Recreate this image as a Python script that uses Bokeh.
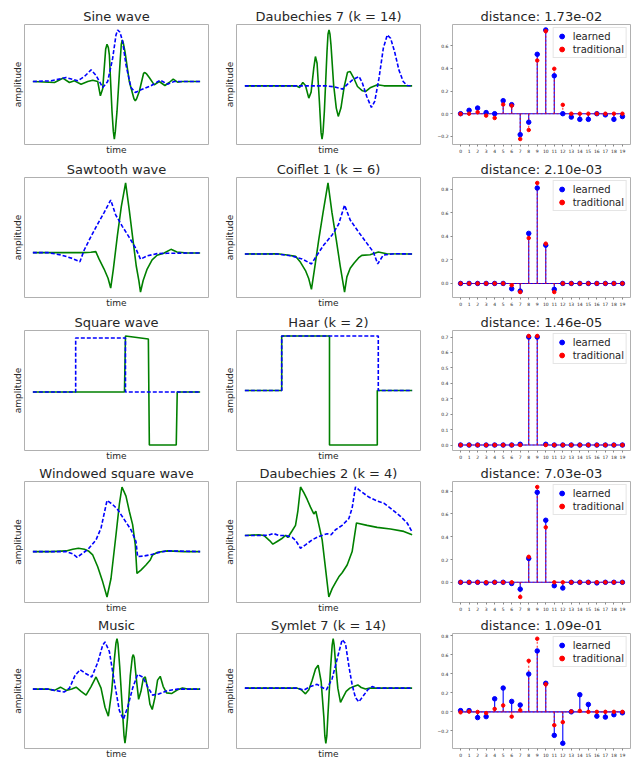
import math
from bokeh.plotting import figure
from bokeh.layouts import column, row
from bokeh.models import Range1d, FixedTicker, Legend, LegendItem
from bokeh.embed import file_html
from bokeh.resources import INLINE

# ---------------- data: column 1 (signals) ----------------
sine_t_g = [0, 65, 90, 110, 125, 145, 165, 180, 195, 203, 210, 219, 223, 227, 230, 238, 242, 245, 248, 253, 263, 266, 269, 272, 277, 290, 304, 308, 312, 320, 333, 337, 341, 350, 365, 380, 397, 410, 422, 435, 450, 503]
sine_a_g = [0, -0.03, 0.10, -0.03, 0.02, -0.08, 0, 0.04, 0, -0.43, -0.22, 0.98, 1.12, 1.02, 0.80, -0.90, -1.50, -1.73, -1.50, -0.90, 0.70, 1.12, 1.25, 1.15, 0.90, 0, -0.52, -0.58, -0.52, -0.30, 0.25, 0.27, 0.24, 0.12, -0.10, 0, -0.12, -0.03, 0.07, -0.02, 0, 0]
sine_t_b = [0, 55, 100, 135, 155, 175, 190, 210, 225, 240, 250, 255, 262, 270, 280, 295, 308, 325, 355, 383, 405, 425, 503]
sine_a_b = [0, 0.02, 0.12, 0.02, 0.15, 0.35, 0.18, -0.18, 0, 0.70, 1.40, 1.55, 1.48, 1.20, 0.50, -0.18, -0.33, -0.25, -0.13, 0.04, -0.08, 0, 0]

saw_t_g = [0, 153, 175, 190, 200, 215, 227, 235, 243, 255, 267, 280, 291, 302, 312, 320, 325, 333, 345, 360, 375, 395, 417, 435, 465, 505]
saw_a_g = [0, 0, 0.01, 0.03, -0.20, -0.50, -0.78, -1.08, -0.50, 0.50, 1.40, 2.12, 1.30, 0.40, -0.40, -0.85, -1.20, -0.85, -0.50, -0.22, -0.08, -0.02, 0.10, 0.02, -0.01, -0.01]
saw_t_b = [0, 45, 85, 120, 142, 155, 175, 195, 215, 235, 250, 270, 290, 310, 325, 345, 375, 405, 505]
saw_a_b = [0, 0, -0.07, -0.18, -0.28, 0.08, 0.48, 0.86, 1.22, 1.60, 1.15, 0.80, 0.48, 0.14, -0.20, -0.10, -0.03, -0.02, -0.01]

sq_t_g = [0, 276, 279, 348, 351, 432, 435, 504]
sq_a_g = [0, 0, 1.65, 1.56, -1.56, -1.56, 0, 0]
sq_t_b = [0, 129, 129, 279, 279, 504]
sq_a_b = [0, 0, 1.59, 1.59, 0, 0]

wsq_t_g = [0, 55, 100, 120, 137, 155, 167, 180, 195, 210, 223, 235, 250, 260, 268, 280, 290, 300, 308, 313, 325, 340, 353, 360, 375, 405, 455, 503]
wsq_a_g = [0, 0, 0.02, 0.07, 0.10, 0.07, 0.02, -0.10, -0.45, -0.90, -1.35, -0.80, 0.50, 1.40, 1.92, 1.65, 1.20, 0.80, 0.20, -0.65, -0.55, -0.40, -0.25, -0.10, -0.02, 0.02, 0, 0]
wsq_t_b = [0, 100, 120, 133, 150, 167, 190, 205, 223, 240, 255, 275, 295, 310, 315, 335, 360, 385, 405, 503]
wsq_a_b = [0, 0, -0.07, -0.17, -0.05, 0.08, 0.35, 0.70, 1.52, 1.40, 1.25, 0.95, 0.65, 0.30, -0.15, -0.13, -0.08, -0.01, 0.02, 0]

mus_t_g = [0, 45, 65, 83, 100, 117, 130, 145, 160, 175, 190, 205, 217, 227, 237, 245, 250, 253, 256, 261, 270, 274, 277, 280, 285, 293, 299, 302, 305, 310, 318, 325, 332, 338, 345, 352, 359, 367, 375, 383, 392, 402, 417, 435, 450, 465, 503]
mus_a_g = [0, 0, -0.04, 0.06, -0.04, 0, 0.06, -0.07, -0.19, 0.08, 0.38, 0.03, -0.57, -0.85, -0.07, 0.93, 1.45, 1.58, 1.42, 0.73, -0.77, -1.45, -1.70, -1.45, -0.87, 0.43, 1.00, 1.08, 0.98, 0.43, -0.32, -0.07, 0.33, 0.38, 0.03, -0.47, -0.64, -0.27, 0.28, 0.40, 0.08, -0.12, -0.14, -0.02, 0.03, 0, 0]
mus_t_b = [0, 45, 70, 95, 110, 127, 142, 160, 177, 195, 210, 217, 230, 245, 260, 272, 285, 300, 315, 330, 345, 360, 380, 405, 435, 503]
mus_a_b = [0, 0, -0.05, -0.09, 0.03, 0.43, 0.61, 0.48, 0.38, 0.83, 1.38, 1.48, 1.18, 0.23, -0.67, -0.95, -0.57, 0.03, 0.46, 0.38, 0.08, -0.19, -0.15, -0.05, 0, 0]

# ---------------- data: column 2 (wavelets) ----------------
db7_t_g = [0, 155, 165, 175, 183, 193, 200, 208, 213, 218, 225, 230, 233, 236, 240, 248, 251, 254, 257, 260, 268, 276, 282, 290, 300, 310, 318, 328, 340, 355, 365, 380, 400, 420, 505]
db7_a_g = [0, 0, -0.05, 0.10, 0.01, -0.37, -0.19, 0.53, 0.88, 0.68, -0.47, -1.40, -1.60, -1.40, -0.77, 1.03, 1.55, 1.68, 1.55, 1.23, 0.03, -0.67, -0.92, -0.67, -0.02, 0.41, 0.43, 0.25, -0.02, -0.15, -0.17, -0.05, 0.03, 0, 0]
db7_t_b = [0, 245, 270, 295, 310, 325, 345, 355, 368, 382, 392, 405, 418, 430, 440, 452, 465, 478, 490, 505]
db7_a_b = [0, 0, -0.03, -0.10, 0.05, 0.18, 0.28, 0.08, -0.32, -0.65, -0.47, 0.23, 1.13, 1.53, 1.43, 1.03, 0.48, 0.13, 0.01, 0]

coif_t_g = [0, 98, 128, 153, 168, 183, 193, 201, 210, 223, 236, 251, 263, 276, 288, 301, 308, 318, 330, 343, 353, 378, 403, 428, 505]
coif_a_g = [0, 0.01, -0.03, -0.07, -0.25, -0.50, -0.75, -1.07, -0.47, 0.43, 1.25, 2.15, 1.25, 0.43, -0.37, -1.15, -0.69, -0.43, -0.27, -0.12, -0.04, -0.02, 0.06, 0.01, 0]
coif_t_b = [0, 98, 138, 173, 201, 218, 238, 263, 283, 301, 318, 343, 368, 388, 401, 418, 453, 505]
coif_a_b = [0, 0, -0.05, -0.15, -0.30, -0.03, 0.27, 0.57, 0.90, 1.48, 1.03, 0.67, 0.33, 0.06, -0.30, -0.03, 0.01, 0]

haar_t_g = [0, 111, 111, 255, 255, 399, 399, 504]
haar_a_g = [0, 0, 1.65, 1.65, -1.65, -1.65, 0, 0]
haar_t_b = [0, 111, 111, 402, 402, 504]
haar_a_b = [0, 0, 1.65, 1.65, 0, 0]

db2_t_g = [0, 42, 57, 75, 84, 97, 110, 122, 129, 142, 152, 159, 167, 177, 187, 197, 207, 213, 222, 232, 242, 252, 262, 272, 282, 292, 307, 322, 335, 367, 397, 437, 477, 502]
db2_a_g = [0, 0.02, 0, -0.16, -0.26, -0.18, -0.10, 0, -0.06, 0.14, 0.30, 0.72, 1.44, 1.27, 1.07, 0.84, 0.64, 0.72, 0.32, -0.13, -0.98, -1.83, -1.58, -1.40, -1.23, -1.11, -0.88, -0.48, 0.37, 0.30, 0.24, 0.19, 0.12, 0.02]
db2_t_b = [0, 47, 72, 85, 102, 122, 142, 152, 167, 182, 202, 222, 247, 259, 272, 292, 312, 322, 332, 347, 372, 397, 417, 442, 467, 487, 502]
db2_a_b = [0, 0, 0.01, 0.06, 0, 0, -0.06, -0.14, -0.38, -0.28, -0.13, -0.03, 0.05, 0.02, 0.17, 0.30, 0.50, 0.82, 1.44, 1.32, 1.14, 1.02, 0.96, 0.77, 0.57, 0.37, 0.10]

sym_t_g = [0, 157, 169, 182, 192, 202, 212, 220, 229, 237, 240, 243, 246, 249, 257, 262, 265, 268, 272, 279, 287, 295, 304, 315, 327, 339, 349, 362, 375, 502]
sym_a_g = [0, 0, -0.05, -0.18, -0.05, 0.25, 0.60, 0.72, 0.20, -0.90, -1.50, -1.73, -1.50, -0.90, 0.60, 1.35, 1.55, 1.35, 0.80, 0, -0.45, -0.28, -0.10, 0, 0.05, 0.10, 0.02, -0.03, 0, 0]
sym_t_b = [0, 157, 177, 197, 217, 232, 245, 262, 279, 292, 302, 312, 322, 332, 342, 355, 369, 382, 395, 502]
sym_a_b = [0, 0, -0.06, 0.05, 0.12, 0.02, -0.05, 0.30, 1.00, 1.52, 1.40, 0.70, 0.10, -0.30, -0.43, -0.25, -0.05, 0.05, 0, 0]

# ---------------- data: column 3 (filter coefficients) ----------------
index = list(range(20))
learned_1 = [0.0, 0.03, 0.05, 0.01, 0.0, 0.115, 0.08, -0.185, -0.075, 0.525, 0.74, 0.335, 0.0, -0.03, -0.05, -0.05, 0.0, -0.01, -0.05, -0.025]
trad_1 = [-0.002, 0.0, 0.013, -0.017, -0.038, 0.081, 0.071, -0.224, -0.144, 0.470, 0.729, 0.397, 0.078, 0, 0, 0, 0, 0, 0, 0]
learned_2 = [0, 0, 0, 0, 0, 0, -0.045, -0.065, 0.425, 0.81, 0.325, -0.05, 0, 0, 0, 0, 0, 0, 0, 0]
trad_2 = [0, 0, 0, 0, 0, 0, -0.016, -0.073, 0.385, 0.853, 0.338, -0.073, 0, 0, 0, 0, 0, 0, 0, 0]
learned_3 = [0, 0, 0, 0, 0, 0, 0, 0.005, 0.700, 0.700, 0.005, 0, 0, 0, 0, 0, 0, 0, 0, 0]
trad_3 = [0, 0, 0, 0, 0, 0, 0, 0, 0.707, 0.707, 0, 0, 0, 0, 0, 0, 0, 0, 0, 0]
learned_4 = [0, 0, 0, -0.005, 0, 0, -0.01, -0.06, 0.21, 0.79, 0.545, -0.03, -0.05, 0, 0, 0, -0.005, 0, 0, 0]
trad_4 = [0, 0, 0, 0, 0, 0, 0, -0.129, 0.224, 0.837, 0.483, 0, 0, 0, 0, 0, 0, 0, 0, 0]
learned_5 = [0.013, 0.013, -0.06, -0.05, 0.137, 0.25, 0.11, 0.072, 0.397, 0.64, 0.30, -0.247, -0.33, 0.0, 0.18, 0.078, -0.045, -0.055, -0.03, -0.01]
trad_5 = [-0.005, 0.003, -0.001, -0.013, 0.031, 0.068, -0.050, 0.017, 0.536, 0.768, 0.289, -0.140, -0.108, 0.004, 0.010, 0, 0, 0, 0, 0]

signal_titles = ["Sine wave", "Sawtooth wave", "Square wave", "Windowed square wave", "Music"]
wavelet_titles = ["Daubechies 7 (k = 14)", "Coiflet 1 (k = 6)", "Haar (k = 2)", "Daubechies 2 (k = 4)", "Symlet 7 (k = 14)"]
distance_titles = ["distance: 1.73e-02", "distance: 2.10e-03", "distance: 1.46e-05", "distance: 7.03e-03", "distance: 1.09e-01"]
yticks = [[-0.2, 0.0, 0.2, 0.4, 0.6],
          [0.0, 0.2, 0.4, 0.6, 0.8],
          [0.0, 0.1, 0.2, 0.3, 0.4, 0.5, 0.6, 0.7],
          [0.0, 0.2, 0.4, 0.6, 0.8],
          [-0.2, 0.0, 0.2, 0.4, 0.6, 0.8]]

signals = [(sine_t_g, sine_a_g, sine_t_b, sine_a_b),
           (saw_t_g, saw_a_g, saw_t_b, saw_a_b),
           (sq_t_g, sq_a_g, sq_t_b, sq_a_b),
           (wsq_t_g, wsq_a_g, wsq_t_b, wsq_a_b),
           (mus_t_g, mus_a_g, mus_t_b, mus_a_b)]
wavelets = [(db7_t_g, db7_a_g, db7_t_b, db7_a_b),
            (coif_t_g, coif_a_g, coif_t_b, coif_a_b),
            (haar_t_g, haar_a_g, haar_t_b, haar_a_b),
            (db2_t_g, db2_a_g, db2_t_b, db2_a_b),
            (sym_t_g, sym_a_g, sym_t_b, sym_a_b)]
coeffs = [(learned_1, trad_1), (learned_2, trad_2), (learned_3, trad_3), (learned_4, trad_4), (learned_5, trad_5)]

# ---------------- style / layout ----------------
FONT = "DejaVu Sans"
TXT = "#262626"
FRAME = "#b0b0b0"
GREEN = "#008000"
BLUE = "#0000ff"
RED = "#ff0000"

ROW_H = [157, 153, 153, 152, 146]
TOP = [24, 20, 20, 17, 18]
BOT = [13, 12, 12, 12, 10]
COL_W = 211
LEFT = [24, 25, 30]
RIGHT = [3, 2, 3]
NAN = float("nan")


def padded(vals, frac=0.05):
    lo, hi = min(vals), max(vals)
    d = (hi - lo) * frac
    return Range1d(lo - d, hi + d)


def base(r, c, title):
    p = figure(width=COL_W, height=ROW_H[r], output_backend="svg", toolbar_location=None,
               min_border_left=LEFT[c], min_border_right=RIGHT[c],
               min_border_top=TOP[r], min_border_bottom=BOT[r], title=title)
    p.title.align = "center"
    p.title.text_font = FONT
    p.title.text_font_size = "13px"
    p.title.text_font_style = "normal"
    p.title.text_color = TXT
    p.title.standoff = 1
    p.outline_line_color = FRAME
    p.outline_line_width = 1
    p.grid.visible = False
    p.background_fill_color = "white"
    p.border_fill_color = "white"
    for ax in p.axis:
        ax.axis_line_color = None
        ax.minor_tick_line_color = None
        ax.axis_label_text_font = FONT
        ax.axis_label_text_font_style = "normal"
        ax.axis_label_text_color = TXT
        ax.axis_label_text_font_size = "9px"
    return p


def wave_panel(r, c, title, tg, ag, tb, ab):
    p = base(r, c, title)
    p.x_range = padded(tg + tb)
    p.y_range = padded(ag + ab)
    p.line(tg, ag, line_color=GREEN, line_width=1.6)
    p.line(tb, ab, line_color=BLUE, line_width=1.6, line_dash="4 2")
    for ax in p.axis:
        ax.ticker = FixedTicker(ticks=[])
        ax.major_tick_line_color = None
        ax.major_tick_out = 0
        ax.major_tick_in = 0
        ax.axis_label_standoff = 2
    p.xaxis.axis_label = "time"
    p.xaxis.axis_label_standoff = 0
    p.yaxis.axis_label = "amplitude"
    return p


def fmt(v):
    s = "%.1f" % v
    return s.replace("-", "\u2212")


def stem_panel(r, title, learned, trad, ticks):
    p = base(r, 2, title)
    p.x_range = Range1d(index[0] - 0.05 * (index[-1] - index[0]), index[-1] + 0.05 * (index[-1] - index[0]))
    p.y_range = padded(learned + trad)
    zeros = [0] * len(index)
    p.segment(index, zeros, index, learned, line_color=BLUE, line_width=1.1)
    p.line([index[0], index[-1]], [0, 0], line_color=BLUE, line_width=1.1)
    p.segment(index, zeros, index, trad, line_color=RED, line_width=1.1, line_dash="2 2", line_alpha=0.8)
    p.line([index[0], index[-1]], [0, 0], line_color=RED, line_width=1.1, line_dash="2 2", line_alpha=0.6)
    p.scatter(index, learned, size=4.5, color=BLUE)
    p.scatter(index, trad, size=3.5, color=RED)

    # legend-only glyphs (a single NaN point, so nothing is drawn in the plot area)
    lb1 = p.scatter([NAN], [NAN], marker="dash", angle=math.pi / 2, size=9, line_color=BLUE, line_width=1.3)
    lb2 = p.scatter([NAN], [NAN], marker="circle", size=4.5, color=BLUE)
    lr1 = p.scatter([NAN], [NAN], marker="dash", angle=math.pi / 2, size=9, line_color=RED, line_width=1.3, line_dash="2 1")
    lr2 = p.scatter([NAN], [NAN], marker="circle", size=3.5, color=RED)
    leg = Legend(items=[LegendItem(label="learned", renderers=[lb1, lb2]),
                        LegendItem(label="traditional", renderers=[lr1, lr2])],
                 location="top_right", label_text_font=FONT, label_text_font_size="10px",
                 label_text_color=TXT, glyph_width=12, glyph_height=12, label_height=12,
                 spacing=1, padding=2, margin=3, label_standoff=5,
                 border_line_color="#cccccc", background_fill_alpha=0.85)
    p.add_layout(leg)

    p.xaxis.ticker = FixedTicker(ticks=index)
    p.yaxis.ticker = FixedTicker(ticks=ticks)
    p.yaxis.major_label_overrides = {t: fmt(t) for t in ticks}
    for ax in p.axis:
        ax.major_label_text_font = FONT
        ax.major_label_text_font_size = "4.5px"
        ax.major_label_text_color = TXT
        ax.major_tick_line_color = "#888888"
        ax.major_tick_out = 2
        ax.major_tick_in = 0
        ax.major_label_standoff = 2
    return p


rows = []
for r in range(5):
    p1 = wave_panel(r, 0, signal_titles[r], *signals[r])
    p2 = wave_panel(r, 1, wavelet_titles[r], *wavelets[r])
    p3 = stem_panel(r, distance_titles[r], coeffs[r][0], coeffs[r][1], yticks[r])
    rows.append(row(p1, p2, p3))

layout = column(*rows)
open("out.html", "w").write(file_html(layout, INLINE))
